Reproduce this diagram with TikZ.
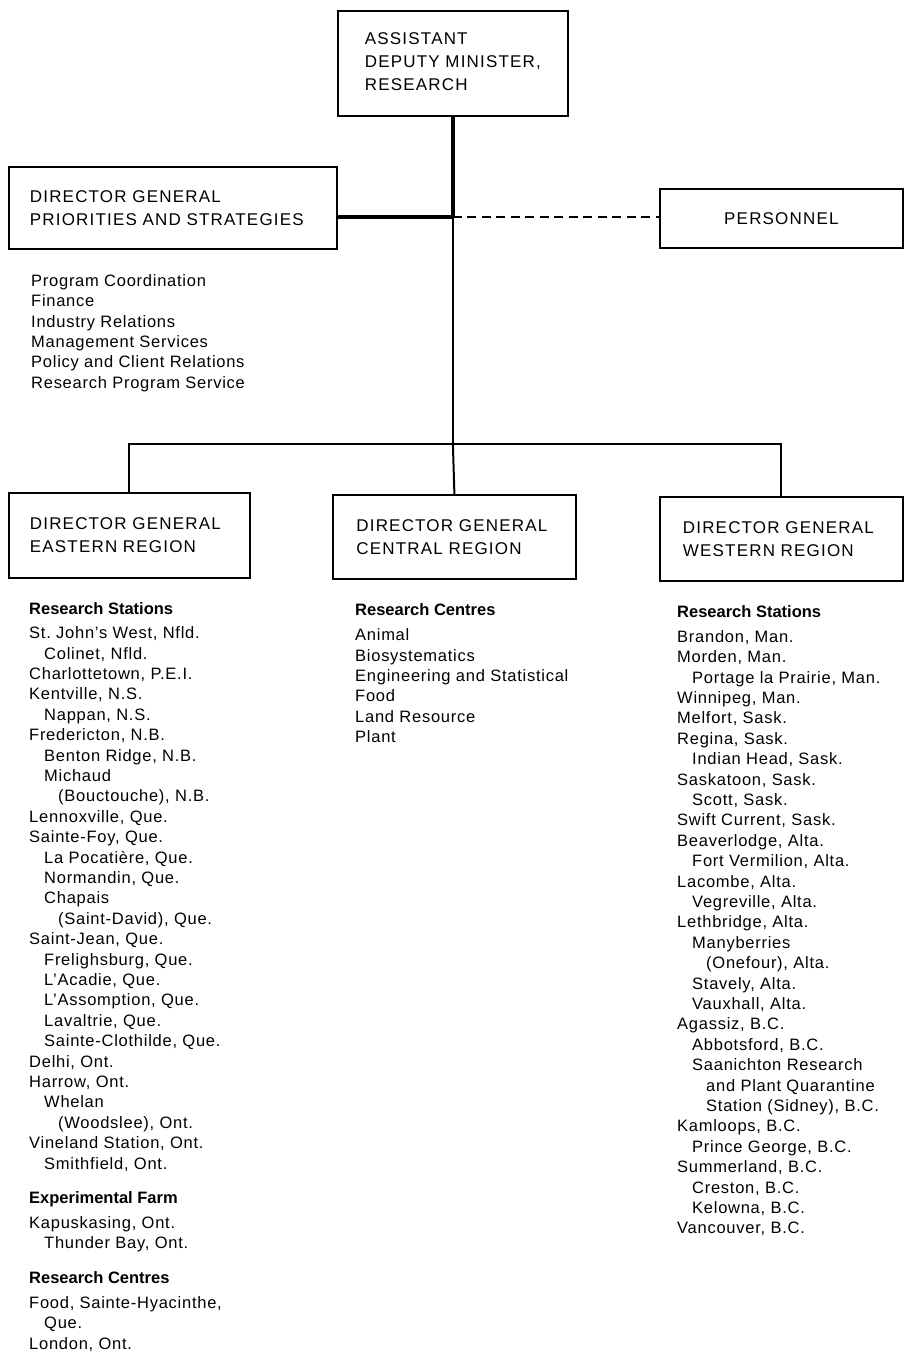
\documentclass[tikz,border=0pt]{standalone}
\usepackage{fontspec}
\setmainfont{Liberation Sans}
\newfontfamily\capsfont[LetterSpace=7]{Liberation Sans}
\newfontfamily\listfont[LetterSpace=4.5]{Liberation Sans}
\newcommand{\keep}[1]{\mbox{#1}}
\newcommand{\ia}{\hspace*{15pt}}
\newcommand{\ib}{\hspace*{29pt}}
\newcommand{\fs}{\rule{0pt}{12.5pt}}
\begin{document}
\begin{tikzpicture}[x=1pt,y=-1pt,
  box/.style={draw, line width=1.8pt, anchor=north west, inner ysep=0pt, align=left,
    font=\capsfont\fontsize{17}{23}\selectfont},
  listtext/.style={anchor=north west, inner sep=0pt, align=left,
    font=\listfont\fontsize{16.5}{20.4}\selectfont},
  headtext/.style={anchor=north west, inner sep=0pt, align=left,
    font=\bfseries\fontsize{16.5}{20.4}\selectfont},
  thickline/.style={line width=4.5pt},
  thinline/.style={line width=2pt},
  dashline/.style={line width=1.6pt, dash pattern=on 9pt off 5.5pt}
]
\useasboundingbox[fill=white] (0,0) rectangle (904,1353);

% boxes
\node[box, minimum width=230pt, minimum height=105pt, inner xsep=27pt, text width=176pt] (adm) at (337,10)
  {\keep{ASSISTANT}\\\keep{DEPUTY MINISTER,}\\\keep{RESEARCH}\rule[-3.5pt]{0pt}{0pt}};
\node[box, minimum width=328pt, minimum height=82pt, inner xsep=21pt, text width=286pt] (ps) at (8,166)
  {\keep{DIRECTOR GENERAL}\\\keep{PRIORITIES AND STRATEGIES}};
\node[box, minimum width=243pt, minimum height=59pt, align=center] (pers) at (659,188)
  {PERSONNEL};
\node[box, minimum width=241pt, minimum height=85pt, inner xsep=21pt, text width=199pt] (east) at (8,492)
  {\keep{DIRECTOR GENERAL}\\\keep{EASTERN REGION}};
\node[box, minimum width=243pt, minimum height=84pt, inner xsep=23.5pt, text width=196pt] (cent) at (332,494)
  {\keep{DIRECTOR GENERAL}\\\keep{CENTRAL REGION}};
\node[box, minimum width=243pt, minimum height=84pt, inner xsep=23pt, text width=197pt] (west) at (659,496)
  {\keep{DIRECTOR GENERAL}\\\keep{WESTERN REGION}};

% connectors
\coordinate (hub) at (adm.south |- 0,217);
\coordinate (bar) at (adm.south |- 0,444);
\draw[thickline] (adm.south) -- (hub);
\draw[thickline] (hub) -- (hub -| ps.east);
\draw[dashline] (hub) -- (hub -| pers.west);
\draw[thinline] (hub) -- (bar);
\draw[thinline] (east.north) -- (east.north |- bar) -- (west.north |- bar) -- (west.north);
\draw[thinline] (bar) -- (cent.north);

% priorities list
\node[listtext] (pslist) at (31,286-12.5) {\fs Program Coordination\\Finance\\Industry Relations\\Management Services\\Policy and Client Relations\\Research Program Service};

% eastern
\node[headtext] (eh1) at (29,614-12.5) {\fs Research Stations};
\node[listtext] (el1) at (29,638.5-12.5) {\fs St.\ John’s West, Nfld.\\
\ia Colinet, Nfld.\\
Charlottetown, P.E.I.\\
Kentville, N.S.\\
\ia Nappan, N.S.\\
Fredericton, N.B.\\
\ia Benton Ridge, N.B.\\
\ia Michaud\\
\ib (Bouctouche), N.B.\\
Lennoxville, Que.\\
Sainte-Foy, Que.\\
\ia La Pocatière, Que.\\
\ia Normandin, Que.\\
\ia Chapais\\
\ib (Saint-David), Que.\\
Saint-Jean, Que.\\
\ia Frelighsburg, Que.\\
\ia L’Acadie, Que.\\
\ia L’Assomption, Que.\\
\ia Lavaltrie, Que.\\
\ia Sainte-Clothilde, Que.\\
Delhi, Ont.\\
Harrow, Ont.\\
\ia Whelan\\
\ib (Woodslee), Ont.\\
Vineland Station, Ont.\\
\ia Smithfield, Ont.};
\node[headtext] (eh2) at (29,1203-12.5) {\fs Experimental Farm};
\node[listtext] (el2) at (29,1228-12.5) {\fs Kapuskasing, Ont.\\\ia Thunder Bay, Ont.};
\node[headtext] (eh3) at (29,1283-12.5) {\fs Research Centres};
\node[listtext] (el3) at (29,1308-12.5) {\fs Food, Sainte-Hyacinthe,\\\ia Que.\\London, Ont.};

% central
\node[headtext] (ch1) at (355,615-12.5) {\fs Research Centres};
\node[listtext] (cl1) at (355,640.5-12.5) {\fs Animal\\Biosystematics\\Engineering and Statistical\\Food\\Land Resource\\Plant};

% western
\node[headtext] (wh1) at (677,617-12.5) {\fs Research Stations};
\node[listtext] (wl1) at (677,642-12.5) {\fs Brandon, Man.\\
Morden, Man.\\
\ia Portage la Prairie, Man.\\
Winnipeg, Man.\\
Melfort, Sask.\\
Regina, Sask.\\
\ia Indian Head, Sask.\\
Saskatoon, Sask.\\
\ia Scott, Sask.\\
Swift Current, Sask.\\
Beaverlodge, Alta.\\
\ia Fort Vermilion, Alta.\\
Lacombe, Alta.\\
\ia Vegreville, Alta.\\
Lethbridge, Alta.\\
\ia Manyberries\\
\ib (Onefour), Alta.\\
\ia Stavely, Alta.\\
\ia Vauxhall, Alta.\\
Agassiz, B.C.\\
\ia Abbotsford, B.C.\\
\ia Saanichton Research\\
\ib and Plant Quarantine\\
\ib Station (Sidney), B.C.\\
Kamloops, B.C.\\
\ia Prince George, B.C.\\
Summerland, B.C.\\
\ia Creston, B.C.\\
\ia Kelowna, B.C.\\
Vancouver, B.C.};
\end{tikzpicture}
\end{document}
